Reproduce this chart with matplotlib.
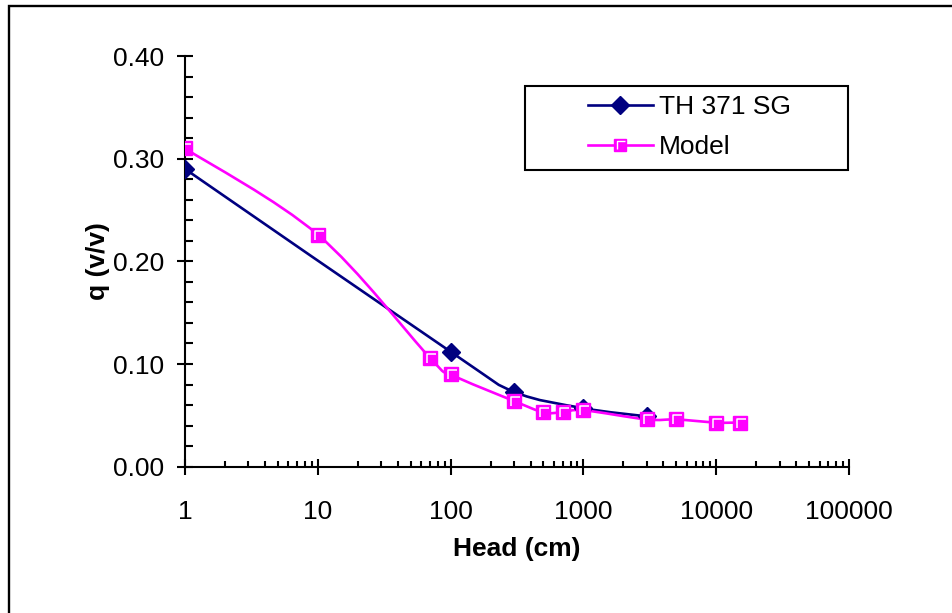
import matplotlib
matplotlib.use("Agg")
import matplotlib.pyplot as plt
from matplotlib.path import Path
from matplotlib.patches import PathPatch, Rectangle
from matplotlib.lines import Line2D
from matplotlib.legend_handler import HandlerTuple
from matplotlib.ticker import FixedLocator, FormatStrFormatter, LogLocator, NullFormatter
import numpy as np

plt.rcParams['font.family'] = ['Liberation Sans', 'DejaVu Sans']

# measured retention curve
th_head = [1, 100, 300, 1000, 3000]
th_q = [0.290, 0.112, 0.073, 0.057, 0.049]

# fitted model
mod_head = [1, 10, 70, 100, 300, 500, 700, 1000, 3000, 5000, 10000, 15000]
mod_q = [0.310, 0.226, 0.106, 0.090, 0.064, 0.053, 0.053, 0.055, 0.046, 0.046, 0.043, 0.043]

x_ticks = [1, 10, 100, 1000, 10000, 100000]
y_ticks = [0.0, 0.1, 0.2, 0.3, 0.4]

NAVY = '#000080'
PINK = '#FF00FF'
FS = 19


def smooth_path(xs, ys):
    # spreadsheet style smoothed line: cubic bezier through the points,
    # control points built in (log10 x, y) so it bends the same on a log axis
    p = np.column_stack([np.log10(xs), ys])
    n = len(p)
    verts = [p[0]]
    codes = [Path.MOVETO]
    for i in range(n - 1):
        p0 = p[max(i - 1, 0)]
        p1 = p[i]
        p2 = p[i + 1]
        p3 = p[min(i + 2, n - 1)]
        c1 = p1 + (p2 - p0) / 6.0
        c2 = p2 - (p3 - p1) / 6.0
        verts += [c1, c2, p2]
        codes += [Path.CURVE4] * 3
    verts = np.array(verts)
    verts[:, 0] = 10 ** verts[:, 0]
    return Path(verts, codes)


# white corner glyph drawn inside the square markers
corner = Path([(-0.5, -0.5), (0.5, 0.5), (-0.25, -0.38), (-0.25, 0.3), (0.42, 0.3)],
              [Path.MOVETO, Path.MOVETO, Path.MOVETO, Path.LINETO, Path.LINETO])

fig = plt.figure(figsize=(9.52, 6.13), dpi=100)
ax = fig.add_axes([185 / 952, 1 - 466.7 / 613, 664 / 952, 410.7 / 613])

ax.add_patch(PathPatch(smooth_path(th_head, th_q), fill=False, edgecolor=NAVY,
                       lw=1.9, transform=ax.transData, zorder=2))
ax.add_patch(PathPatch(smooth_path(mod_head, mod_q), fill=False, edgecolor=PINK,
                       lw=1.9, transform=ax.transData, zorder=2))

ax.plot(th_head, th_q, ls='none', marker='D', ms=8.8, color=NAVY, zorder=3)
ax.plot(mod_head, mod_q, ls='none', marker='s', ms=9.8, mfc=PINK, mec=PINK, mew=1, zorder=4)
ax.plot(mod_head, mod_q, ls='none', marker=corner, ms=9.8, mfc='none', mec='white', mew=1.1, zorder=5)

ax.set_xscale('log')
ax.set_xlim(1, 100000)
ax.set_ylim(0, 0.4)

ax.xaxis.set_major_locator(FixedLocator(x_ticks))
ax.set_xticklabels([str(v) for v in x_ticks])
ax.xaxis.set_minor_locator(LogLocator(base=10, subs=np.arange(2, 10)))
ax.xaxis.set_minor_formatter(NullFormatter())
ax.yaxis.set_major_locator(FixedLocator(y_ticks))
ax.yaxis.set_major_formatter(FormatStrFormatter('%.2f'))
ax.yaxis.set_minor_locator(FixedLocator(np.arange(0, 0.401, 0.02)))

for s in ['top', 'right']:
    ax.spines[s].set_visible(False)
for s in ['left', 'bottom']:
    ax.spines[s].set_linewidth(1.5)

ax.tick_params(which='major', direction='inout', length=12, width=1.5,
               labelsize=FS, color='black')
ax.tick_params(axis='x', which='major', pad=18)
ax.tick_params(axis='y', which='major', pad=9)
ax.tick_params(axis='x', which='minor', direction='in', length=4.5, width=1.5)
ax.tick_params(axis='y', which='minor', direction='in', length=6, width=1.5)

ax.set_xlabel('Head (cm)', fontsize=FS, fontweight='bold')
ax.set_ylabel('q (v/v)', fontsize=FS, fontweight='bold')
ax.xaxis.set_label_coords(0.5, -0.172)
ax.yaxis.set_label_coords(-0.113, 0.5)

h1 = Line2D([], [], color=NAVY, lw=1.9, marker='D', ms=8.8)
h2 = Line2D([], [], color=PINK, lw=1.9, marker='s', ms=8.5, mec=PINK)
h3 = Line2D([], [], ls='none', marker=corner, ms=8.5, mfc='none', mec='white', mew=1.0)
fig.legend([h1, (h2, h3)], ['TH 371 SG', 'Model'],
           handler_map={tuple: HandlerTuple(ndivide=1)},
           loc='center left', bbox_to_anchor=(588 / 952, 1 - 127 / 613),
           frameon=False, fontsize=FS, borderpad=0, borderaxespad=0,
           handlelength=2.45, handletextpad=0.25, labelspacing=0.62)
fig.patches.append(Rectangle((525 / 952, 1 - 170 / 613), 323 / 952, 84 / 613,
                             transform=fig.transFigure, fill=False, lw=1.5,
                             edgecolor='black', zorder=5))

# outer chart border (runs off the right and bottom edges)
fig.patches.append(Rectangle((9 / 952, -0.1), 1.2, 1.1 - 6.2 / 613,
                             transform=fig.transFigure, fill=False, lw=1.7,
                             edgecolor='black'))

fig.savefig('out.png', dpi=100)
